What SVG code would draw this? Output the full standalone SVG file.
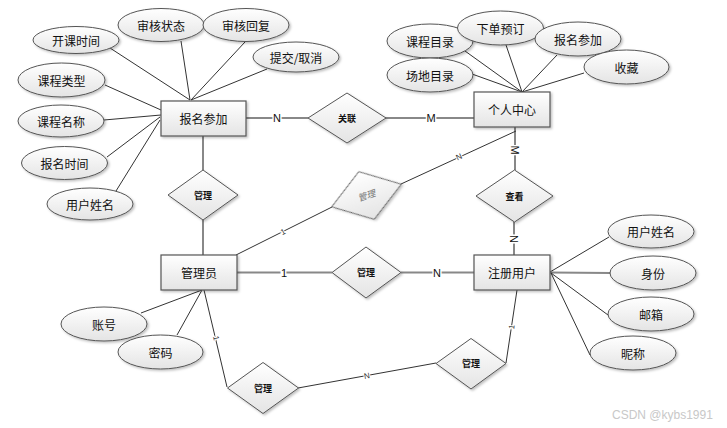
<svg xmlns="http://www.w3.org/2000/svg" width="727" height="428" viewBox="0 0 727 428">
<defs>
<linearGradient id="g" x1="0" y1="0" x2="0" y2="1">
<stop offset="0" stop-color="#ffffff"/>
<stop offset="1" stop-color="#e4e4e4"/>
</linearGradient>
<filter id="sh" x="-20%" y="-20%" width="150%" height="150%">
<feDropShadow dx="1.5" dy="1.5" stdDeviation="1" flood-color="#000" flood-opacity="0.25"/>
</filter>
</defs>
<style>
.ent{fill:url(#g);stroke:#555;stroke-width:1.2;filter:url(#sh)}
.att{fill:url(#g);stroke:#555;stroke-width:1;filter:url(#sh)}
.rel{fill:url(#g);stroke:#555;stroke-width:1;filter:url(#sh)}
.t{font-family:"Noto Sans CJK SC","Liberation Sans",sans-serif;font-size:12px;fill:#111;text-anchor:middle;dominant-baseline:central}
.ts{font-family:"Noto Sans CJK SC","Liberation Sans",sans-serif;font-size:9px;font-weight:bold;fill:#111;text-anchor:middle;dominant-baseline:central}
.ln{stroke:#333;stroke-width:1;fill:none}
.lg{stroke:#888;stroke-width:2;fill:none}
.lb{font-family:"Liberation Sans",sans-serif;font-size:11px;fill:#111;text-anchor:middle;dominant-baseline:central;stroke:#fff;stroke-width:3;paint-order:stroke}
.lbs{font-family:"Liberation Sans",sans-serif;font-size:8px;fill:#333;text-anchor:middle;dominant-baseline:central;stroke:#fff;stroke-width:2;paint-order:stroke}
.wm{font-family:"Liberation Sans",sans-serif;font-size:12px;fill:#c8c8c8}
</style>
<g id="connectors">
<line class="ln" x1="110" y1="48" x2="190" y2="100"/>
<line class="ln" x1="181" y1="41" x2="190" y2="100"/>
<line class="ln" x1="245" y1="42" x2="191" y2="100"/>
<line class="ln" x1="267" y1="69" x2="191" y2="100"/>
<line class="ln" x1="105" y1="85" x2="161" y2="110"/>
<line class="ln" x1="104" y1="120" x2="161" y2="115"/>
<line class="ln" x1="107" y1="157" x2="160" y2="117"/>
<line class="ln" x1="116" y1="191" x2="160" y2="120"/>
<line class="lg" x1="246" y1="118" x2="308" y2="118"/>
<text class="lb" x="277" y="118">N</text>
<line class="lg" x1="385" y1="118" x2="474" y2="118"/>
<text class="lb" x="431" y="118">M</text>
<line class="lg" x1="203" y1="136" x2="203" y2="170"/>
<line class="lg" x1="203" y1="220" x2="203" y2="255"/>
<line class="ln" x1="465" y1="51" x2="522" y2="92"/>
<line class="ln" x1="472" y1="74" x2="522" y2="92"/>
<line class="ln" x1="506" y1="45" x2="522" y2="92"/>
<line class="ln" x1="557" y1="55" x2="522" y2="92"/>
<line class="ln" x1="584" y1="73" x2="522" y2="92"/>
<line class="lg" x1="515" y1="127" x2="515" y2="170"/>
<text class="lb" x="515" y="150" transform="rotate(90 515 150)">M</text>
<line class="ln" x1="401" y1="184" x2="516" y2="131"/>
<text class="lbs" x="459" y="157" font-size="10" transform="rotate(-25 459 157)">N</text>
<line class="ln" x1="236" y1="255" x2="332" y2="207"/>
<text class="lbs" x="283" y="232" font-size="10" transform="rotate(-27 283 232)">1</text>
<line class="lg" x1="237" y1="272.5" x2="332" y2="272.5"/>
<text class="lb" x="284" y="272.5">1</text>
<line class="lg" x1="401" y1="272.5" x2="474" y2="272.5"/>
<text class="lb" x="437" y="272.5">N</text>
<line class="lg" x1="514" y1="222" x2="514" y2="255"/>
<text class="lb" x="514" y="239" transform="rotate(90 514 239)">N</text>
<line class="ln" x1="609" y1="237" x2="550" y2="272"/>
<line class="lg" x1="550" y1="272.5" x2="611" y2="273"/>
<line class="ln" x1="608" y1="315" x2="551" y2="273"/>
<line class="ln" x1="590" y1="355" x2="551" y2="273"/>
<line class="ln" x1="141" y1="313" x2="202" y2="290"/>
<line class="ln" x1="177" y1="335" x2="202" y2="290"/>
<line class="ln" x1="204" y1="290" x2="227" y2="387"/>
<text class="lbs" x="216" y="338" transform="rotate(77 216 338)">1</text>
<line class="ln" x1="298" y1="388" x2="436" y2="363"/>
<text class="lbs" x="367" y="376" transform="rotate(-10 367 376)">N</text>
<line class="ln" x1="506" y1="363" x2="517" y2="290"/>
<text class="lbs" x="512" y="327" transform="rotate(-81 512 327)">1</text>
</g>
<g id="baoming">
<rect class="ent" x="161" y="101" width="85" height="35"/>
<text class="t" x="203.5" y="118.5">报名参加</text>
</g>
<g id="gerenzhongxin">
<rect class="ent" x="474" y="92" width="76" height="35"/>
<text class="t" x="512" y="109.5">个人中心</text>
</g>
<g id="guanliyuan">
<rect class="ent" x="161" y="255" width="76" height="35"/>
<text class="t" x="199" y="272.5">管理员</text>
</g>
<g id="zhuceyonghu">
<rect class="ent" x="474" y="255" width="76" height="35"/>
<text class="t" x="512" y="272.5">注册用户</text>
</g>
<g id="attr-kaikeshijian"><ellipse class="att" cx="76" cy="40" rx="43" ry="13.5"/><text class="t" x="76" y="40">开课时间</text></g>
<g id="attr-shenhezhuangtai"><ellipse class="att" cx="161" cy="25" rx="43" ry="16.5"/><text class="t" x="161" y="25">审核状态</text></g>
<g id="attr-shenhehuifu"><ellipse class="att" cx="246" cy="25" rx="43" ry="16.5"/><text class="t" x="246" y="25">审核回复</text></g>
<g id="attr-tijiao"><ellipse class="att" cx="296" cy="57" rx="43" ry="15"/><text class="t" x="296" y="57">提交/取消</text></g>
<g id="attr-kechengleixing"><ellipse class="att" cx="61.5" cy="80" rx="43.5" ry="17"/><text class="t" x="61.5" y="80">课程类型</text></g>
<g id="attr-kechengmingcheng"><ellipse class="att" cx="61" cy="121" rx="43" ry="16"/><text class="t" x="61" y="121">课程名称</text></g>
<g id="attr-baomingshijian"><ellipse class="att" cx="64.5" cy="163" rx="43" ry="16.5"/><text class="t" x="64.5" y="163">报名时间</text></g>
<g id="attr-yonghuxingming1"><ellipse class="att" cx="90" cy="204" rx="43" ry="16"/><text class="t" x="90" y="204">用户姓名</text></g>
<g id="attr-kechengmulu"><ellipse class="att" cx="430" cy="41" rx="43" ry="17"/><text class="t" x="430" y="41">课程目录</text></g>
<g id="attr-xiadanyuding"><ellipse class="att" cx="500.5" cy="28" rx="43" ry="17"/><text class="t" x="500.5" y="28">下单预订</text></g>
<g id="attr-baomingcanjia"><ellipse class="att" cx="578" cy="39" rx="43" ry="17"/><text class="t" x="578" y="39">报名参加</text></g>
<g id="attr-changdimulu"><ellipse class="att" cx="430" cy="75" rx="43" ry="17"/><text class="t" x="430" y="75">场地目录</text></g>
<g id="attr-shoucang"><ellipse class="att" cx="626.5" cy="67" rx="42.5" ry="17"/><text class="t" x="626.5" y="67">收藏</text></g>
<g id="attr-yonghuxingming2"><ellipse class="att" cx="651" cy="231.5" rx="43" ry="16.5"/><text class="t" x="651" y="231.5">用户姓名</text></g>
<g id="attr-shenfen"><ellipse class="att" cx="653" cy="273" rx="43" ry="17"/><text class="t" x="653" y="273">身份</text></g>
<g id="attr-youxiang"><ellipse class="att" cx="651" cy="314" rx="43" ry="17"/><text class="t" x="651" y="314">邮箱</text></g>
<g id="attr-nicheng"><ellipse class="att" cx="633" cy="353" rx="43" ry="17"/><text class="t" x="633" y="353">昵称</text></g>
<g id="attr-zhanghao"><ellipse class="att" cx="104" cy="324" rx="43" ry="17"/><text class="t" x="104" y="324">账号</text></g>
<g id="attr-mima"><ellipse class="att" cx="160.5" cy="352" rx="42.5" ry="17"/><text class="t" x="160.5" y="352">密码</text></g>
<g id="rel-guanlian"><polygon class="rel" points="347,93 386,118 347,143 308,118"/><text class="ts" x="347" y="118">关联</text></g>
<g id="rel-guanli1"><polygon class="rel" points="203,170 238,195 203,220 168,195"/><text class="ts" x="203" y="195">管理</text></g>
<g id="rel-chakan"><polygon class="rel" points="514.5,170 553,196 514.5,222 476,196"/><text class="ts" x="514.5" y="196">查看</text></g>
<g id="rel-guanli2"><polygon class="rel" points="366,247 401,272.5 366,298 332,272.5"/><text class="ts" x="366" y="272.5">管理</text></g>
<g id="rel-guanli3" transform="translate(366.5 195.5) rotate(-18)"><polygon class="rel" points="0,-25 36.5,0 0,25 -36.5,0"/><text x="0" y="0" font-family="Noto Sans CJK SC, sans-serif" font-size="9" font-style="italic" fill="#777" text-anchor="middle" dominant-baseline="central">管理</text></g>
<g id="rel-guanli4"><polygon class="rel" points="263,362.5 298.5,388 263,413.5 227.5,388"/><text class="ts" x="263" y="388">管理</text></g>
<g id="rel-guanli5"><polygon class="rel" points="471,338.5 506,363.5 471,389 436,363.5"/><text class="ts" x="471" y="363.5">管理</text></g>
<text class="wm" x="612" y="419">CSDN @kybs1991</text>
</svg>
